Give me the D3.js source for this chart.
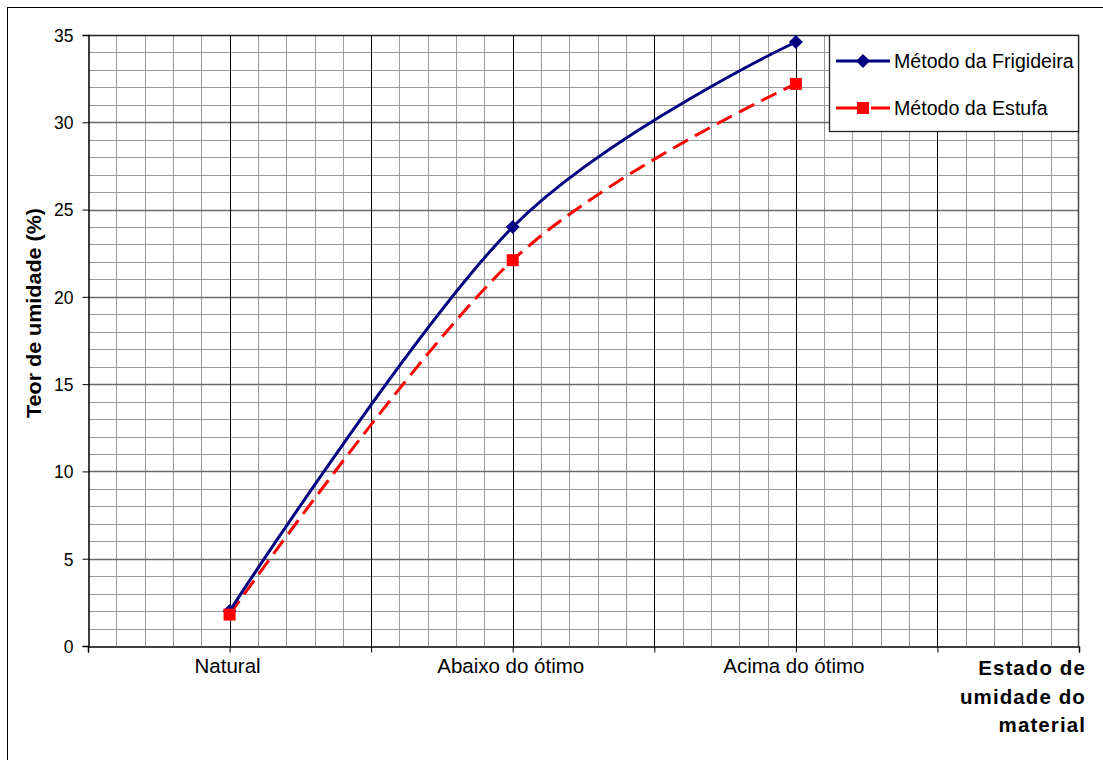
<!DOCTYPE html>
<html><head><meta charset="utf-8">
<script src="https://cdn.jsdelivr.net/npm/d3@7"></script>
<style>
html,body{margin:0;padding:0;background:#fff;}
svg{display:block;font-family:Arial,"Liberation Sans",sans-serif;}
</style></head>
<body>
<svg id="chart" width="1103" height="760"></svg>
<script>
const categories = ["Natural", "Abaixo do ótimo", "Acima do ótimo"];
const frigideira = [2.0, 24.0, 34.6];
const estufa = [1.8, 22.1, 32.2];
const seriesNames = ["Método da Frigideira", "Método da Estufa"];
const yTicks = [0, 5, 10, 15, 20, 25, 30, 35];
const yAxisTitle = "Teor de umidade (%)";
const xAxisTitle = ["Estado de", "umidade do", "material"];

const svg = d3.select("#chart");
const L = 88, R = 1079, T = 35, B = 646;

// outer frame
svg.append("rect").attr("x", 7.5).attr("y", 7.5).attr("width", 1200).attr("height", 1000)
  .attr("fill", "#fff").attr("stroke", "#000").attr("stroke-width", 1);

// x positions: 7 slots, categories on odd slots
const x = d3.scaleLinear().domain([0, 7]).range([L, R]);
const catPos = i => x(2 * i + 1);
const y = d3.scaleLinear().domain([0, 35]).range([B, T]);

const g = svg.append("g");
// minor grid
const minorX = d3.range(0, 7.001, 0.2).filter(v => Math.abs(v - Math.round(v)) > 1e-6);
g.selectAll(".mx").data(minorX).join("line")
  .attr("x1", d => Math.round(x(d)) + 0.5).attr("x2", d => Math.round(x(d)) + 0.5)
  .attr("y1", T).attr("y2", B).attr("stroke", "#9a9a9a").attr("stroke-width", 1);
const minorY = d3.range(1, 35).filter(v => v % 5 !== 0);
g.selectAll(".my").data(minorY).join("line")
  .attr("x1", L).attr("x2", R)
  .attr("y1", d => Math.round(y(d)) + 0.5).attr("y2", d => Math.round(y(d)) + 0.5)
  .attr("stroke", "#9a9a9a").attr("stroke-width", 1);
// major grid
g.selectAll(".My").data(yTicks.filter(v => v > 0 && v < 35)).join("line")
  .attr("x1", L).attr("x2", R)
  .attr("y1", d => Math.round(y(d)) + 0.5).attr("y2", d => Math.round(y(d)) + 0.5)
  .attr("stroke", "#6a6a6a").attr("stroke-width", 1.4);
g.selectAll(".Mx").data(d3.range(1, 7)).join("line")
  .attr("x1", d => Math.round(x(d)) + 0.5).attr("x2", d => Math.round(x(d)) + 0.5)
  .attr("y1", T).attr("y2", B).attr("stroke", "#000").attr("stroke-width", 1);
// plot border
g.append("line").attr("x1", L).attr("x2", R).attr("y1", T + 0.5).attr("y2", T + 0.5).attr("stroke", "#222").attr("stroke-width", 1.5);
g.append("line").attr("x1", R - 0.5).attr("x2", R - 0.5).attr("y1", T).attr("y2", B).attr("stroke", "#444").attr("stroke-width", 1.5);

// axes
const yAxis = d3.axisLeft(y).tickValues(yTicks).tickSize(6).tickPadding(9).tickFormat(d3.format("d"));
const ya = svg.append("g").attr("transform", `translate(${L + 0.5},0)`).call(yAxis);
ya.select(".domain").attr("stroke", "#000").attr("stroke-width", 1.5);
ya.selectAll(".tick line").attr("stroke", "#000");
ya.selectAll("text").attr("font-size", "17.5px").attr("font-family", "Arial,'Liberation Sans',sans-serif").attr("fill", "#000").attr("dy", "0.36em");

const xAxis = d3.axisBottom(x).tickValues(d3.range(0, 8)).tickSize(6).tickFormat(() => "");
const xa = svg.append("g").attr("transform", `translate(0,${B + 0.5})`).call(xAxis);
xa.select(".domain").attr("stroke", "#000").attr("stroke-width", 1.5);
xa.selectAll(".tick line").attr("stroke", "#000");

svg.selectAll(".catlab").data(categories).join("text")
  .attr("x", (d, i) => catPos(i) - 2).attr("y", 673)
  .attr("text-anchor", "middle").attr("font-size", "20.5px").attr("fill", "#000")
  .text(d => d);

// axis titles
svg.append("text").attr("transform", `translate(41,313) rotate(-90)`)
  .attr("text-anchor", "middle").attr("font-size", "20px").attr("font-weight", "bold")
  .attr("textLength", 210).attr("lengthAdjust", "spacingAndGlyphs")
  .text(yAxisTitle);
xAxisTitle.forEach((t, i) => {
  svg.append("text").attr("x", 1086).attr("y", 675 + i * 28.7)
    .attr("text-anchor", "end").attr("font-size", "20.5px").attr("font-weight", "bold")
    .attr("letter-spacing", "1.1px")
    .text(t);
});

// lines
const line = d3.line().x((d, i) => catPos(i)).y(d => y(d)).curve(d3.curveCardinal.tension(0));
svg.append("path").datum(estufa).attr("d", line).attr("fill", "none")
  .attr("stroke", "#ff0000").attr("stroke-width", 3).attr("stroke-dasharray", "17,8");
svg.append("path").datum(frigideira).attr("d", line).attr("fill", "none")
  .attr("stroke", "#000080").attr("stroke-width", 3);
const diamond = d3.symbol().type(d3.symbolDiamond2).size(125);
svg.selectAll(".dm").data(frigideira).join("path")
  .attr("transform", (d, i) => `translate(${catPos(i)},${y(d)})`)
  .attr("d", diamond).attr("fill", "#000080");
svg.selectAll(".sq").data(estufa).join("rect")
  .attr("x", (d, i) => catPos(i) - 6).attr("y", d => y(d) - 6)
  .attr("width", 12).attr("height", 12).attr("fill", "#ff0000");

// legend
const lg = svg.append("g");
lg.append("rect").attr("x", 829.5).attr("y", 35.5).attr("width", 249).attr("height", 96)
  .attr("fill", "#fff").attr("stroke", "#222").attr("stroke-width", 1.3);
const ly = [61, 108];
lg.append("line").attr("x1", 836).attr("x2", 890).attr("y1", ly[0]).attr("y2", ly[0])
  .attr("stroke", "#000080").attr("stroke-width", 3);
lg.append("path").attr("transform", `translate(863,${ly[0]})`).attr("d", diamond).attr("fill", "#000080");
lg.append("line").attr("x1", 836).attr("x2", 890).attr("y1", ly[1]).attr("y2", ly[1])
  .attr("stroke", "#ff0000").attr("stroke-width", 3).attr("stroke-dasharray", "30,5,20");
lg.append("rect").attr("x", 857).attr("y", ly[1] - 6).attr("width", 12).attr("height", 12).attr("fill", "#ff0000");
lg.selectAll(".lt").data(seriesNames).join("text")
  .attr("x", 894).attr("y", (d, i) => ly[i] + 7)
  .attr("font-size", "19.6px").attr("fill", "#000").text(d => d);
</script>
</body></html>
